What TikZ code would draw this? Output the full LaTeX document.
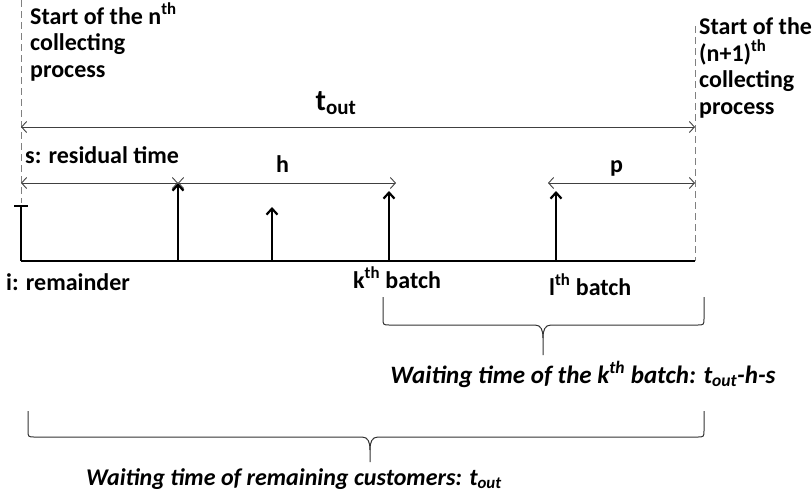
\documentclass[tikz,border=0pt]{standalone}
\usepackage{fontspec}
\setmainfont{Carlito}
\usetikzlibrary{arrows.meta}
\begin{document}
\begin{tikzpicture}[x=1pt,y=-1pt,
  lbl/.style={font=\fontsize{24}{26.5}\selectfont\bfseries, inner sep=0pt, align=left, anchor=base west},
  note/.style={font=\fontsize{24}{26.5}\selectfont\bfseries\itshape, inner sep=0pt, anchor=base},
  guide/.style={draw=black!50, line width=0.8pt, dash pattern=on 7pt off 4pt},
  dimline/.style={draw=black!75, line width=0.9pt, {Straight Barb[length=5pt,width=11pt]}-{Straight Barb[length=5pt,width=11pt]}},
  arrival/.style={line width=2.2pt, -{Straight Barb[length=6pt,width=11pt]}},
  axis/.style={line width=2.4pt},
  bracket/.style={draw=black!80, line width=1pt}]
\useasboundingbox (0,0) rectangle (812,499);

% time axis and its two ends
\coordinate (A0) at (21,261);
\coordinate (A1) at (695,261);
\coordinate (G0) at (21,0);
\coordinate (G0b) at (21,203);
\coordinate (G1) at (695,26);
\draw[guide] (G0) -- (G0b);
\draw[guide] (G1) -- (A1);
\draw[axis] (A0) -- (A1);

% remainder stub at the start
\coordinate (R0) at (21,206);
\coordinate (Rl) at (14,206);
\coordinate (Rr) at (28,206);
\draw[axis] (A0) -- (R0);
\draw[line width=2.2pt] (Rl) -- (Rr);

% batch arrivals
\coordinate (B1) at (178,261); \coordinate (B1t) at (178,183);
\coordinate (B2) at (272,261); \coordinate (B2t) at (272,207);
\coordinate (B3) at (389,261); \coordinate (B3t) at (389,191);
\coordinate (B4) at (556,261); \coordinate (B4t) at (556,191);
\draw[arrival] (B1) -- (B1t);
\draw[arrival] (B2) -- (B2t);
\draw[arrival] (B3) -- (B3t);
\draw[arrival] (B4) -- (B4t);

% dimension arrows
\coordinate (T0) at (21,127);
\coordinate (T1) at (695,127);
\coordinate (S0) at (21,183);
\coordinate (S1) at (178,183);
\coordinate (H1) at (396,183);
\coordinate (P0) at (548,183);
\coordinate (P1) at (695,183);
\draw[dimline] (T0) -- (T1);
\draw[dimline] (S0) -- (S1);
\draw[dimline] (S1) -- (H1);
\draw[dimline] (P0) -- (P1);

% labels (a multi-line node sits on the baseline of its last line)
\node[lbl] (startn) at (30,77) {Start of the n\textsuperscript{th}\\collecting\\process};
\node[lbl] (startn1) at (699,114) {Start of the\\(n+1)\textsuperscript{th}\\collecting\\process};
\node[inner sep=0pt, anchor=base, font=\fontsize{30}{30}\selectfont\bfseries] (tout) at (336,110) {t\textsubscript{out}};
\node[lbl] (slab) at (25,163) {s: residual time};
\node[lbl] (hlab) at (276,172) {h};
\node[lbl] (plab) at (610,172) {p};
\node[lbl] (ilab) at (6,290) {i: remainder};
\node[lbl] (klab) at (353,288) {k\textsuperscript{th} batch};
\node[lbl] (llab) at (549,295) {l\textsuperscript{th} batch};

% brace under the k-th batch waiting span
\coordinate (K0) at (383,297);
\coordinate (K1) at (704,297);
\coordinate (Kt) at (543,355);
\draw[bracket] (K0) -- (383,318) .. controls (383,325) .. (390,325) -- (535,325)
  .. controls (541,325) and (543,330) .. (543,338) -- (Kt);
\draw[bracket] (K1) -- (704,318) .. controls (704,325) .. (697,325) -- (551,325)
  .. controls (545,325) and (543,330) .. (543,338);
\node[note, font=\fontsize{25}{26.5}\selectfont\bfseries\itshape] (kwait) at (583,383) {Waiting time of the k\textsuperscript{th} batch: t\textsubscript{out}-h-s};

% brace under the whole collecting interval
\coordinate (W0) at (28,411);
\coordinate (W1) at (704,411);
\coordinate (Wt) at (370,462);
\draw[bracket] (W0) -- (28,430) .. controls (28,437) .. (35,437) -- (362,437)
  .. controls (368,437) and (370,442) .. (370,450) -- (Wt);
\draw[bracket] (W1) -- (704,430) .. controls (704,437) .. (697,437) -- (378,437)
  .. controls (372,437) and (370,442) .. (370,450);
\node[note, anchor=base west] (rwait) at (86,485) {Waiting time of remaining customers: t\textsubscript{out}};
\end{tikzpicture}
\end{document}
